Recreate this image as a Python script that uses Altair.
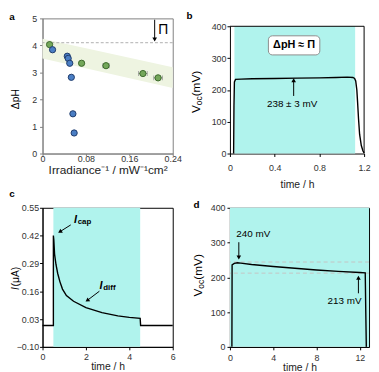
import altair as alt
import pandas as pd

FONT = "Liberation Sans"
CYAN = "#b0f3ed"

# ---------------- data ----------------
# panel a
a_green_x = [0.013, 0.072, 0.117, 0.185, 0.213]
a_green_y = [4.03, 3.34, 3.25, 2.96, 2.80]
a_green_xerr = [0.003, 0.004, 0.006, 0.008, 0.008]
a_green_yerr = [0.12, 0.10, 0.10, 0.10, 0.10]
a_blue_x = [0.0185, 0.0456, 0.0473, 0.0502, 0.0531, 0.056, 0.0583]
a_blue_y = [3.84, 3.60, 3.52, 3.34, 2.82, 1.47, 0.76]
a_blue_yerr = [0.10, 0.10, 0.10, 0.10, 0.10, 0.10, 0.10]
band_x = [0.0, 0.24]
band_lo = [3.52, 2.42]
band_hi = [4.25, 3.19]
osmotic_line = 4.1

# panel b
b_t = [0.033, 0.036, 0.040, 0.05, 0.1, 0.2, 0.4, 0.6, 0.8, 0.95, 1.05, 1.10, 1.115, 1.125,
       1.135, 1.142, 1.15, 1.16, 1.175, 1.19, 1.2]
b_v = [0, 150, 225, 233, 234, 235, 236, 237, 238, 239, 240, 239, 236, 228,
       200, 160, 110, 60, 25, 8, 2]
b_light = [0.04, 1.12]

# panel c
c_t = [0, 0.5, 0.5, 0.52, 0.555, 0.62, 0.70, 0.80, 0.92, 1.1, 1.43, 2.0, 2.74, 3.47,
       4.0, 4.5, 4.52, 6.0]
c_i = [0.0, 0.0, 0.42, 0.40, 0.334, 0.285, 0.243, 0.205, 0.17, 0.14, 0.113, 0.083, 0.06,
       0.045, 0.038, 0.033, 0.0, 0.0]
c_light = [0.5, 4.5]

# panel d
d_t = [0.18, 0.2, 0.4, 0.7, 1.0, 2, 4, 6, 8, 10, 12, 12.5, 12.55, 12.6]
d_v = [0, 236, 240, 242, 241, 237, 231, 226, 221, 217, 214, 213, 100, 0]
d_light = [0.0, 12.85]
d_levels = [244, 212]


# ---------------- helpers ----------------
def one():
    return pd.DataFrame({"k": [0]})


def ptext(s, x, y, size=10, weight="normal", angle=0, align="center", style="normal",
          color="black", baseline="middle"):
    return alt.Chart(one()).mark_text(
        text=s, fontSize=size, fontWeight=weight, angle=angle, align=align,
        baseline=baseline, fontStyle=style, font=FONT, color=color
    ).encode(x=alt.value(x), y=alt.value(y))


def dtext(s, xv, yv, size=10, weight="normal", align="center", style="normal"):
    return alt.Chart(one()).mark_text(
        text=s, fontSize=size, fontWeight=weight, align=align, baseline="middle",
        fontStyle=style, font=FONT, color="black"
    ).encode(x=alt.datum(xv), y=alt.datum(yv))


def arrow(x1, y1, x2, y2, shape="triangle-up", angle=0):
    df = pd.DataFrame({"x": [x1], "y": [y1], "x2": [x2], "y2": [y2]})
    shaft = alt.Chart(df).mark_rule(color="black", strokeWidth=1).encode(
        x="x:Q", y="y:Q", x2="x2:Q", y2="y2:Q")
    head = alt.Chart(df).mark_point(shape=shape, filled=True, size=22, angle=angle,
                                    color="black", opacity=1).encode(x="x2:Q", y="y2:Q")
    return [shaft, head]


def vtitle(parts, x, yc):
    total = sum(p[2] for p in parts)
    y = yc + total / 2
    layers = []
    for text, size, w, xs, style in parts:
        layers.append(ptext(text, x + xs, y, size=size, angle=270, align="left", style=style))
        y -= w
    return layers


def axis(values, fmt, label_pad, tick=3, title_pad=0, gray=False, title="", title_size=10.5):
    col = "#808080" if gray else "black"
    return alt.Axis(values=values, tickCount=len(values), format=fmt, grid=False, tickSize=tick,
                    labelPadding=label_pad, titlePadding=title_pad, domainColor=col,
                    tickColor=col, title=title,
                    labelOverlap=False, labelFlush=False, labelBound=False,
                    labelFont=FONT, labelFontSize=9, labelColor="#333",
                    titleFont=FONT, titleFontSize=title_size, titleFontWeight="normal",
                    titleColor="#222")


# ---------------- panel a ----------------
AW, AH = 132, 137
ax_x = alt.X("x:Q", scale=alt.Scale(domain=[0, 0.24], nice=False),
             axis=axis([0, 0.08, 0.16, 0.24], ".2~f", -1, tick=2, gray=True, title_pad=1,
                       title="Irradiance\u207b\u00b9 / mW\u207b\u00b9cm\u00b2", title_size=12))
ax_y = alt.Y("y:Q", scale=alt.Scale(domain=[0, 5], nice=False),
             axis=axis([0, 1, 2, 3, 4, 5], "d", 3, gray=True))

band_df = pd.DataFrame({"x": band_x, "y": band_lo, "y2": band_hi})
band = alt.Chart(band_df).mark_area(color="#eef4e1", opacity=1).encode(
    x=ax_x, y=ax_y, y2="y2:Q")
dash = alt.Chart(one()).mark_rule(color="#b0b0b0", strokeDash=[3, 2], strokeWidth=1).encode(
    y=alt.datum(osmotic_line))

g_df = pd.DataFrame({"x": a_green_x, "y": a_green_y,
                     "xl": [x - e for x, e in zip(a_green_x, a_green_xerr)],
                     "xh": [x + e for x, e in zip(a_green_x, a_green_xerr)],
                     "yl": [y - e for y, e in zip(a_green_y, a_green_yerr)],
                     "yh": [y + e for y, e in zip(a_green_y, a_green_yerr)]})
b_df = pd.DataFrame({"x": a_blue_x, "y": a_blue_y,
                     "yl": [y - e for y, e in zip(a_blue_y, a_blue_yerr)],
                     "yh": [y + e for y, e in zip(a_blue_y, a_blue_yerr)]})
ERR = "#8a8a8a"
g_vbar = alt.Chart(g_df).mark_rule(color=ERR).encode(x="x:Q", y="yl:Q", y2="yh:Q")
g_hbar = alt.Chart(g_df).mark_rule(color=ERR).encode(x="xl:Q", x2="xh:Q", y="y:Q")
g_cap1 = alt.Chart(g_df).mark_tick(color=ERR, orient="vertical", size=5, thickness=1).encode(
    x="xl:Q", y="y:Q")
g_cap2 = alt.Chart(g_df).mark_tick(color=ERR, orient="vertical", size=5, thickness=1).encode(
    x="xh:Q", y="y:Q")
b_vbar = alt.Chart(b_df).mark_rule(color=ERR).encode(x="x:Q", y="yl:Q", y2="yh:Q")
g_pts = alt.Chart(g_df).mark_circle(size=40, color="#74a75a", stroke="#3c6a2c", strokeWidth=1,
                                    opacity=1).encode(x="x:Q", y="y:Q")
b_pts = alt.Chart(b_df).mark_circle(size=40, color="#4a7ec4", stroke="#1f3c6c", strokeWidth=1,
                                    opacity=1).encode(x="x:Q", y="y:Q")

panel_a = alt.layer(
    band, dash, g_vbar, g_hbar, g_cap1, g_cap2, b_vbar, g_pts, b_pts,
    *arrow(0.2067, 4.95, 0.2067, 4.22, shape="triangle-down"),
    dtext("\u03a0", 0.2225, 4.55, size=14),
    ptext("a", -31, -1, size=10, weight="bold"),
    *vtitle([("\u0394pH", 10.5, 20, 0, "normal")], -27, 82),
).properties(width=AW, height=AH, view=alt.ViewBackground(stroke="#808080"))

# ---------------- panel b ----------------
# same cell height as panel a; the plot itself starts 8 px lower
BW, BH, BTOP = 136, 137, 8
bx = alt.X("x:Q", scale=alt.Scale(domain=[0, 1.2], nice=False),
           axis=axis([0, 0.4, 0.8, 1.2], ".1~f", 7, title_pad=7, title="time / h"))
by = alt.Y("y:Q", scale=alt.Scale(domain=[0, 400], nice=False, range=[BH, BTOP]),
           axis=axis([0, 100, 200, 300, 400], "d", 1))
b_bg = alt.Chart(pd.DataFrame({"x": [b_light[0]], "x2": [b_light[1]], "y": [0], "y2": [400]})
                 ).mark_rect(color=CYAN).encode(x=bx, x2="x2:Q", y=by, y2="y2:Q")
b_line = alt.Chart(pd.DataFrame({"x": b_t, "y": b_v, "o": list(range(len(b_t)))})).mark_line(
    color="black", strokeWidth=1.4).encode(x="x:Q", y="y:Q", order="o:Q")
b_box = alt.Chart(pd.DataFrame({"x": [0.344], "x2": [0.804], "y": [310], "y2": [370]})).mark_rect(
    fill="white", stroke="#8c8c8c", strokeWidth=1, cornerRadius=4).encode(
    x="x:Q", x2="x2:Q", y="y:Q", y2="y2:Q")
b_top = alt.Chart(one()).mark_rule(color="black", strokeWidth=1).encode(
    y=alt.datum(400), x=alt.datum(0), x2=alt.datum(1.2))
b_right = alt.Chart(one()).mark_rule(color="black", strokeWidth=1).encode(
    x=alt.datum(1.2), y=alt.datum(0), y2=alt.datum(400))

panel_b = alt.layer(
    b_bg, b_line, b_box, b_top, b_right,
    dtext("\u0394pH \u2248 \u03a0", 0.574, 340, size=11, weight="bold"),
    *arrow(0.57, 181, 0.57, 230, shape="triangle-up"),
    dtext("238 \u00b1 3 mV", 0.556, 156, size=10),
    ptext("b", -41, BTOP - 10, size=10, weight="bold"),
    *vtitle([("V", 12, 8, 0, "normal"), ("oc", 8.5, 9, 3, "normal"),
             (" (mV)", 12, 29, 0, "normal")], -34, BTOP + 65),
).properties(width=BW, height=BH, view=alt.ViewBackground(stroke="transparent"))

# ---------------- panel c ----------------
CW, CH = 132, 141
cx = alt.X("x:Q", scale=alt.Scale(domain=[0, 6], nice=False),
           axis=axis([0, 2, 4, 6], "d", 2.5, title_pad=0, title="time / h"))
cy = alt.Y("y:Q", scale=alt.Scale(domain=[-0.10, 0.55], nice=False),
           axis=axis([-0.10, 0.03, 0.16, 0.29, 0.42, 0.55], ".2f", 1))
c_bg = alt.Chart(pd.DataFrame({"x": [c_light[0]], "x2": [c_light[1]], "y": [-0.10], "y2": [0.55]})
                 ).mark_rect(color=CYAN).encode(x=cx, x2="x2:Q", y=cy, y2="y2:Q")
c_line = alt.Chart(pd.DataFrame({"x": c_t, "y": c_i, "o": list(range(len(c_t)))})).mark_line(
    color="black", strokeWidth=1.4).encode(x="x:Q", y="y:Q", order="o:Q")

panel_c = alt.layer(
    c_bg, c_line,
    dtext("I", 1.52, 0.492, size=11, style="italic", weight="bold"),
    dtext("cap", 1.62, 0.482, size=8, weight="bold", align="left"),
    *arrow(1.30, 0.47, 0.80, 0.438, shape="triangle-up", angle=238),
    dtext("I", 2.70, 0.186, size=11, style="italic", weight="bold"),
    dtext("diff", 2.80, 0.176, size=8, weight="bold", align="left"),
    *arrow(2.62, 0.160, 2.06, 0.117, shape="triangle-up", angle=235),
    ptext("c", -31, -14, size=10, weight="bold"),
    *vtitle([("I", 10.5, 3.5, 0, "italic"), (" (\u03bcA)", 10.5, 21, 0, "normal")], -27, 71),
).properties(width=CW, height=CH, view=alt.ViewBackground(stroke="black"))

# ---------------- panel d ----------------
DW, DH = 141, 141
dx_ = alt.X("x:Q", scale=alt.Scale(domain=[0, 12.85], nice=False),
            axis=axis([0, 4, 8, 12], "d", 3.5, title_pad=0, title="time / h"))
dy_ = alt.Y("y:Q", scale=alt.Scale(domain=[0, 400], nice=False),
            axis=axis([0, 100, 200, 300, 400], "d", 2))
d_bg = alt.Chart(pd.DataFrame({"x": [d_light[0]], "x2": [d_light[1]], "y": [0], "y2": [400]})
                 ).mark_rect(color=CYAN).encode(x=dx_, x2="x2:Q", y=dy_, y2="y2:Q")
d_dash = alt.Chart(pd.DataFrame({"y": d_levels})).mark_rule(
    color="#c4c4c4", strokeDash=[4, 3], strokeWidth=1).encode(y="y:Q")
d_line = alt.Chart(pd.DataFrame({"x": d_t, "y": d_v, "o": list(range(len(d_t)))})).mark_line(
    color="black", strokeWidth=1.4).encode(x="x:Q", y="y:Q", order="o:Q")

panel_d = alt.layer(
    d_bg, d_dash, d_line,
    dtext("240 mV", 2.15, 324, size=10),
    *arrow(0.82, 301, 0.82, 257, shape="triangle-down"),
    dtext("213 mV", 10.58, 132, size=10),
    *arrow(11.87, 154, 11.87, 199, shape="triangle-up"),
    ptext("d", -34, -3, size=10, weight="bold"),
    *vtitle([("V", 12, 8, 0, "normal"), ("oc", 8.5, 9, 3, "normal"),
             (" (mV)", 12, 29, 0, "normal")], -32, 67),
).properties(width=DW, height=DH, view=alt.ViewBackground(stroke="black"))

chart = alt.concat(panel_a, panel_b, panel_c, panel_d, columns=2, bounds="flush",
                   spacing={"row": 55, "column": 58}).properties(
    padding=0).configure_view(strokeWidth=1)

chart.save("out.html", embed_options={"renderer": "svg", "actions": False})
